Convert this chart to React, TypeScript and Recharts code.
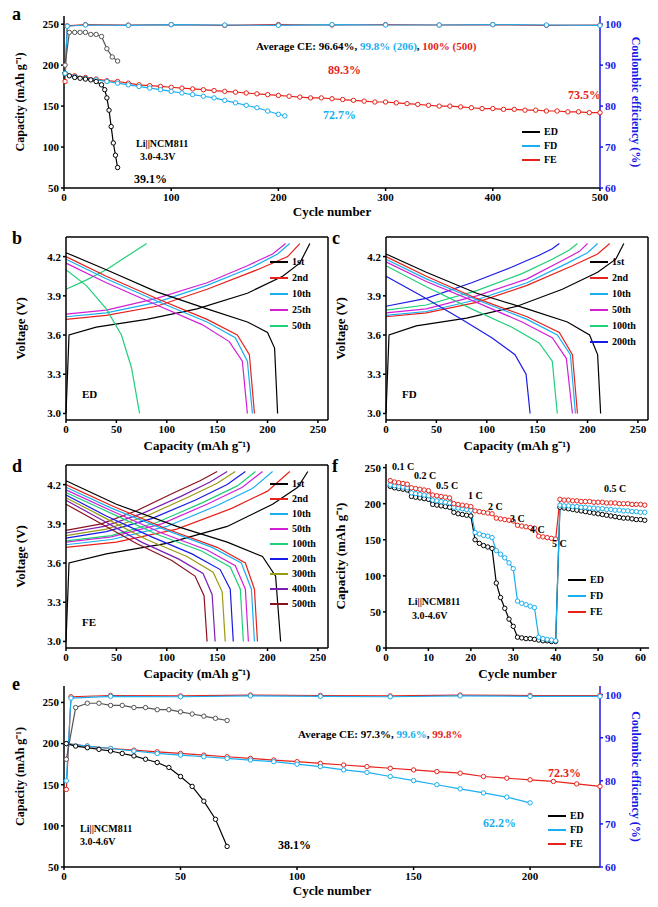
import React from "react";
import { ComposedChart, Line, XAxis, YAxis } from "recharts";

type P = [number, number];
const pts = (a: P[]) => a.map(([x, y]) => ({ x, y }));

// ---- panel a: 3.0-4.3 V cycling
const aFeCycles = [1, 10, 20, 30, 40, 50, 60, 70, 80, 90, 100, 110, 120, 130, 140, 150, 160, 170, 180, 190, 200, 210, 220, 230, 240, 250, 260, 270, 280, 290, 300, 310, 320, 330, 340, 350, 360, 370, 380, 390, 400, 410, 420, 430, 440, 450, 460, 470, 480, 490, 500];
const aFeCap = [190, 187, 185, 183, 181, 180, 178, 176, 175, 174, 173, 172, 171, 170, 169, 168, 167, 166, 165, 164, 163, 162, 161, 160, 160, 159, 158, 157, 156, 155, 155, 154, 153, 152, 151, 150, 150, 149, 148, 147, 147, 146, 146, 145, 145, 144, 144, 143, 143, 142, 142];
const aFdCycles = [1, 10, 20, 30, 40, 50, 60, 70, 80, 90, 100, 110, 120, 130, 140, 150, 160, 170, 180, 190, 200, 206];
const aFdCap = [190, 186, 184, 182, 180, 178, 176, 174, 172, 170, 168, 166, 164, 162, 160, 157, 154, 151, 148, 144, 140, 138];
const aEdCycles = [1, 5, 10, 15, 20, 25, 30, 35, 38, 40, 42, 44, 46, 48, 50];
const aEdCap = [190, 187, 185, 184, 183, 182, 180, 176, 170, 160, 145, 125, 105, 90, 75];
const aEdCeCycles = [1, 5, 10, 15, 20, 25, 30, 35, 40, 45, 50];
const aEdCe = [90, 98, 98, 98, 98, 97.5, 97.5, 97, 94, 92, 91];
const aCeCycles = [1, 3, 20, 60, 100, 150, 200, 250, 300, 350, 400, 450, 500];
const aFdCe = [88, 99.5, 99.8, 99.7, 99.9, 99.8, 99.7, 99.9, 99.8, 99.8, 99.9, 99.8, 99.7];
const aFeCe = [86, 99.6, 99.9, 99.8, 99.9, 99.7, 99.9, 99.8, 99.9, 99.8, 99.9, 99.7, 99.8];

// ---- panel b (ED), c (FD), d (FE): voltage profiles [capacity, V]
const bLabels = ["1st", "2nd", "10th", "25th", "50th"];
const bColors = ["#000", "#e8221b", "#19aef0", "#d21fd6", "#1fcf7a"];
const bCharge: P[][] = [
  [[0, 3.0], [3, 3.6], [30, 3.66], [80, 3.72], [130, 3.8], [180, 3.92], [215, 4.05], [232, 4.15], [242, 4.3]],
  [[0, 3.72], [40, 3.75], [90, 3.82], [140, 3.95], [190, 4.1], [220, 4.2], [232, 4.3]],
  [[0, 3.74], [40, 3.77], [90, 3.85], [140, 3.98], [185, 4.12], [210, 4.22], [222, 4.3]],
  [[0, 3.76], [40, 3.79], [90, 3.88], [140, 4.0], [180, 4.13], [205, 4.22], [218, 4.3]],
  [[0, 3.95], [20, 4.02], [40, 4.1], [60, 4.2], [80, 4.3]],
];
const bDischarge: P[][] = [
  [[0, 4.23], [40, 4.1], [90, 3.93], [140, 3.8], [180, 3.7], [200, 3.62], [207, 3.5], [210, 3.0]],
  [[0, 4.2], [40, 4.05], [90, 3.88], [140, 3.72], [170, 3.6], [182, 3.45], [187, 3.0]],
  [[0, 4.18], [40, 4.03], [90, 3.86], [140, 3.7], [168, 3.58], [180, 3.4], [185, 3.0]],
  [[0, 4.15], [40, 4.0], [90, 3.83], [135, 3.68], [162, 3.55], [175, 3.4], [180, 3.0]],
  [[0, 4.1], [20, 3.98], [40, 3.8], [55, 3.6], [65, 3.35], [73, 3.0]],
];
const cLabels = ["1st", "2nd", "10th", "50th", "100th", "200th"];
const cColors = ["#000", "#e8221b", "#19aef0", "#d21fd6", "#1fcf7a", "#1a1ae6"];
const cCharge: P[][] = [
  [[0, 3.0], [3, 3.6], [30, 3.67], [80, 3.73], [130, 3.82], [175, 3.95], [210, 4.08], [228, 4.18], [236, 4.3]],
  [[0, 3.74], [40, 3.77], [90, 3.85], [140, 3.98], [185, 4.13], [210, 4.22], [222, 4.3]],
  [[0, 3.75], [40, 3.78], [90, 3.87], [140, 4.0], [180, 4.15], [200, 4.23], [210, 4.3]],
  [[0, 3.77], [40, 3.8], [90, 3.9], [140, 4.03], [175, 4.17], [192, 4.24], [200, 4.3]],
  [[0, 3.79], [40, 3.83], [90, 3.94], [135, 4.07], [165, 4.18], [182, 4.25], [190, 4.3]],
  [[0, 3.82], [40, 3.88], [85, 4.0], [125, 4.12], [152, 4.21], [165, 4.26], [172, 4.3]],
];
const cDischarge: P[][] = [
  [[0, 4.22], [40, 4.08], [90, 3.92], [140, 3.8], [180, 3.7], [202, 3.6], [210, 3.45], [213, 3.0]],
  [[0, 4.2], [40, 4.05], [90, 3.88], [140, 3.74], [172, 3.62], [185, 3.45], [190, 3.0]],
  [[0, 4.18], [40, 4.03], [90, 3.87], [140, 3.72], [170, 3.6], [183, 3.45], [188, 3.0]],
  [[0, 4.16], [40, 4.01], [90, 3.85], [135, 3.7], [165, 3.58], [179, 3.42], [185, 3.0]],
  [[0, 4.13], [40, 3.97], [85, 3.8], [125, 3.66], [152, 3.54], [165, 3.4], [170, 3.0]],
  [[0, 4.05], [35, 3.9], [75, 3.72], [105, 3.58], [128, 3.45], [139, 3.3], [143, 3.0]],
];
const dLabels = ["1st", "2nd", "10th", "50th", "100th", "200th", "300th", "400th", "500th"];
const dColors = ["#000", "#e8221b", "#19aef0", "#d21fd6", "#1fcf7a", "#1a1ae6", "#9a9a14", "#7a1fb0", "#8a1020"];
const dCharge: P[][] = [
  [[0, 3.0], [3, 3.6], [40, 3.67], [100, 3.75], [160, 3.88], [205, 4.05], [230, 4.18], [240, 4.3]],
  [[0, 3.72], [50, 3.76], [110, 3.86], [165, 4.02], [200, 4.15], [222, 4.3]],
  [[0, 3.74], [45, 3.78], [100, 3.88], [150, 4.04], [185, 4.17], [205, 4.3]],
  [[0, 3.76], [45, 3.8], [95, 3.9], [140, 4.05], [175, 4.18], [195, 4.3]],
  [[0, 3.77], [45, 3.81], [90, 3.91], [135, 4.06], [170, 4.19], [188, 4.3]],
  [[0, 3.79], [40, 3.84], [85, 3.94], [128, 4.08], [160, 4.2], [178, 4.3]],
  [[0, 3.81], [40, 3.86], [80, 3.96], [120, 4.1], [150, 4.21], [168, 4.3]],
  [[0, 3.83], [38, 3.88], [76, 3.98], [114, 4.11], [143, 4.22], [160, 4.3]],
  [[0, 3.85], [35, 3.9], [70, 4.0], [105, 4.13], [133, 4.23], [150, 4.3]],
];
const dDischarge: P[][] = [
  [[0, 4.23], [50, 4.05], [110, 3.88], [160, 3.76], [195, 3.65], [208, 3.5], [213, 3.0]],
  [[0, 4.2], [45, 4.04], [100, 3.86], [150, 3.72], [178, 3.6], [187, 3.4], [190, 3.0]],
  [[0, 4.18], [45, 4.02], [100, 3.85], [145, 3.72], [174, 3.6], [184, 3.4], [187, 3.0]],
  [[0, 4.16], [45, 4.0], [95, 3.83], [140, 3.7], [168, 3.58], [178, 3.4], [181, 3.0]],
  [[0, 4.14], [45, 3.98], [90, 3.82], [135, 3.69], [163, 3.57], [173, 3.4], [176, 3.0]],
  [[0, 4.12], [40, 3.96], [85, 3.8], [125, 3.67], [153, 3.55], [163, 3.4], [166, 3.0]],
  [[0, 4.1], [40, 3.94], [80, 3.78], [120, 3.65], [146, 3.53], [155, 3.38], [158, 3.0]],
  [[0, 4.08], [38, 3.92], [75, 3.76], [112, 3.63], [136, 3.52], [145, 3.36], [148, 3.0]],
  [[0, 4.05], [35, 3.9], [70, 3.75], [105, 3.62], [128, 3.5], [137, 3.35], [140, 3.0]],
];

// ---- panel f: rate capability, cycles 1..61
const fEd = [224, 222, 221, 220, 219, 210, 209, 208, 207, 206, 199, 198, 197, 196, 195, 188, 186, 185, 184, 183, 150, 145, 142, 140, 138, 90, 70, 55, 40, 30, 15, 14, 13, 13, 12, 11, 10, 10, 9, 9, 195, 194, 193, 192, 191, 190, 189, 188, 187, 186, 185, 184, 183, 182, 181, 180, 180, 179, 178, 178, 177];
const fFd = [226, 225, 224, 223, 222, 215, 214, 213, 212, 211, 205, 204, 203, 202, 201, 195, 194, 193, 192, 191, 160, 158, 156, 155, 153, 135, 130, 125, 118, 110, 65, 62, 60, 58, 56, 15, 13, 12, 11, 10, 198, 197, 197, 196, 196, 195, 195, 194, 194, 193, 193, 192, 192, 191, 191, 190, 190, 189, 189, 188, 188];
const fFe = [232, 230, 229, 228, 227, 222, 221, 220, 219, 218, 212, 211, 210, 209, 208, 200, 199, 198, 197, 196, 190, 189, 188, 187, 186, 180, 179, 178, 177, 176, 170, 169, 168, 167, 166, 155, 154, 153, 152, 151, 206, 205, 205, 204, 204, 203, 203, 203, 202, 202, 202, 201, 201, 201, 200, 200, 200, 199, 199, 199, 198];
const fRates = ["0.1 C", "0.2 C", "0.5 C", "1 C", "2 C", "3 C", "4 C", "5 C", "0.5 C"];

// ---- panel e: 3.0-4.6 V cycling
const eEdCycles = [1, 5, 10, 15, 20, 25, 30, 35, 40, 45, 50, 55, 60, 65, 70];
const eEdCap = [200, 197, 195, 193, 191, 188, 185, 181, 177, 171, 160, 148, 130, 108, 75];
const eEdCe = [85, 97, 98, 98, 97.5, 97.5, 97, 97, 96.5, 96.5, 96, 95.5, 95, 94.5, 94];
const eFdCycles = [1, 10, 20, 30, 40, 50, 60, 70, 80, 90, 100, 110, 120, 130, 140, 150, 160, 170, 180, 190, 200];
const eFdCap = [200, 197, 194, 191, 188, 186, 184, 182, 180, 178, 175, 172, 168, 165, 160, 155, 150, 145, 140, 135, 128];
const eFeCycles = [1, 10, 20, 30, 40, 50, 60, 70, 80, 90, 100, 110, 120, 130, 140, 150, 160, 170, 180, 190, 200, 210, 220, 230];
const eFeCap = [200, 197, 194, 192, 190, 188, 186, 184, 182, 180, 178, 176, 174, 172, 170, 168, 166, 164, 160, 158, 156, 154, 151, 148];
const eCeCycles = [1, 3, 20, 50, 80, 110, 140, 170, 200, 230];
const eFdCe = [80, 99.2, 99.6, 99.5, 99.7, 99.6, 99.5, 99.7, 99.6, 99.6];
const eFeCe = [78, 99.5, 99.8, 99.7, 99.9, 99.8, 99.7, 99.9, 99.8, 99.8];

const BLACK = "#000";
const RED = "#e8221b";
const CYAN = "#19aef0";
const BLUE = "#1a1ae6";
const font = "'Liberation Serif', serif";
const tick = { fontSize: 11, fontWeight: 700, fill: "#000", fontFamily: font };

const zip = (xs: number[], ys: number[]) => xs.map((x, i) => ({ x, y: ys[i] }));
const T = (p: { x: number; y: number; c?: string; s?: number; children: React.ReactNode }) => (
  <div style={{ position: "absolute", left: p.x, top: p.y, color: p.c ?? "#000", fontSize: p.s ?? 11, fontWeight: 700, fontFamily: font, whiteSpace: "nowrap" }}>{p.children}</div>
);

const line = (key: string, data: any[], color: string, yId = "l", dots = true) => (
  <Line key={key} data={data} dataKey="y" yAxisId={yId} stroke={color} strokeWidth={1.2} isAnimationActive={false}
    dot={dots ? { r: 2.2, fill: "#fff", stroke: color, strokeWidth: 1 } : false} />
);

const lbl = (value: string, size = 13, fill = "#000") =>
  ({ value, position: "insideBottom", offset: 4, style: { fontSize: size, fontWeight: 700, fontFamily: font, fill } }) as any;
const ylbl = (value: string, size = 13, fill = "#000", right = false) =>
  ({ value, angle: right ? 90 : -90, position: right ? "insideRight" : "insideLeft", offset: right ? 14 : 12, style: { fontSize: size, fontWeight: 700, fontFamily: font, fill, textAnchor: "middle" } }) as any;

function Legend({ items, x, y, gap = 15 }: { items: [string, string][]; x: number; y: number; gap?: number }) {
  return (
    <>
      {items.map(([l, c], i) => (
        <div key={l} style={{ position: "absolute", left: x, top: y + i * gap, display: "flex", alignItems: "center", fontSize: 10, fontWeight: 700, fontFamily: font }}>
          <span style={{ display: "inline-block", width: 18, height: 2, background: c, marginRight: 4 }} />{l}
        </div>
      ))}
    </>
  );
}

function Voltage({ charge, discharge, colors, labels, name, letter }: { charge: P[][]; discharge: P[][]; colors: string[]; labels: string[]; name: string; letter: string }) {
  return (
    <div style={{ position: "relative", width: 329, height: 228 }}>
      <ComposedChart width={329} height={228} margin={{ top: 8, right: 8, left: 0, bottom: 2 }}>
        <XAxis type="number" dataKey="x" domain={[0, 260]} ticks={[0, 50, 100, 150, 200, 250]} tick={tick} stroke="#000" strokeWidth={1.5} tickSize={3} height={34}
          label={lbl("Capacity (mAh g⁻¹)")} />
        <YAxis yAxisId="l" type="number" domain={[2.95, 4.35]} ticks={[3.0, 3.3, 3.6, 3.9, 4.2]} tickFormatter={(v) => v.toFixed(1)} tick={tick} stroke="#000" strokeWidth={1.5} width={58} tickSize={3}
          label={ylbl("Voltage (V)")} />
        <XAxis xAxisId="top" orientation="top" type="number" domain={[0, 260]} tick={false} stroke="#000" strokeWidth={1.5} height={1} />
        <YAxis yAxisId="r" orientation="right" tick={false} stroke="#000" strokeWidth={1.5} width={1} />
        {charge.map((c, i) => line("c" + i, pts(c), colors[i], "l", false))}
        {discharge.map((c, i) => line("d" + i, pts(c), colors[i], "l", false))}
      </ComposedChart>
      <T x={4} y={0} s={18}>{letter}</T>
      <T x={74} y={160} s={11}>{name}</T>
      <Legend items={labels.map((l, i) => [l, colors[i]] as [string, string])} x={262} y={labels.length > 6 ? 22 : 28} gap={labels.length > 6 ? 15 : 16} />
    </div>
  );
}

export default function App() {
  return (
    <div style={{ position: "relative", width: 642, height: 891, fontFamily: font }}>
      {/* a */}
      <div style={{ position: "absolute", left: 0, top: 0 }}>
        <ComposedChart width={642} height={212} margin={{ top: 8, right: 0, left: 0, bottom: 0 }}>
          <XAxis type="number" dataKey="x" domain={[0, 500]} ticks={[0, 100, 200, 300, 400, 500]} tick={tick} stroke="#000" strokeWidth={1.5} tickSize={3} height={32} label={lbl("Cycle number")} />
          <YAxis yAxisId="l" domain={[50, 260]} ticks={[50, 100, 150, 200, 250]} tick={tick} stroke="#000" strokeWidth={1.5} width={56} tickSize={3} label={ylbl("Capacity (mAh g⁻¹)", 12)} />
          <YAxis yAxisId="r" orientation="right" domain={[60, 102]} ticks={[60, 70, 80, 90, 100]} tick={{ ...tick, fill: BLUE }} stroke={BLUE} strokeWidth={1.5} width={50} tickSize={3} label={ylbl("Coulombic efficiency (%)", 12, BLUE, true)} />
          {line("fe", zip(aFeCycles, aFeCap), RED)}
          {line("fd", zip(aFdCycles, aFdCap), CYAN)}
          {line("ed", zip(aEdCycles, aEdCap), BLACK)}
          {line("fec", zip(aCeCycles, aFeCe), RED, "r")}
          {line("fdc", zip(aCeCycles, aFdCe), CYAN, "r")}
          {line("edc", zip(aEdCeCycles, aEdCe), "#555", "r")}
        </ComposedChart>
        <T x={4} y={-4} s={18}>a</T>
        <T x={248} y={32}>Average CE: 96.64%, <span style={{ color: CYAN }}>99.8% (206)</span>, <span style={{ color: RED }}>100% (500)</span></T>
        <T x={320} y={55} c={RED} s={12}>89.3%</T>
        <T x={315} y={100} c={CYAN} s={12}>72.7%</T>
        <T x={560} y={80} c={RED} s={12}>73.5%</T>
        <T x={126} y={164} s={12}>39.1%</T>
        <T x={128} y={130} s={10}>Li||NCM811</T>
        <T x={132} y={143} s={10}>3.0-4.3V</T>
        <Legend items={[["ED", BLACK], ["FD", CYAN], ["FE", RED]]} x={514} y={118} gap={14} />
      </div>
      <div style={{ position: "absolute", left: 0, top: 220 }}>
        <Voltage charge={bCharge} discharge={bDischarge} colors={bColors} labels={bLabels} name="ED" letter="b" />
      </div>
      <div style={{ position: "absolute", left: 320, top: 220 }}>
        <Voltage charge={cCharge} discharge={cDischarge} colors={cColors} labels={cLabels} name="FD" letter="c" />
      </div>
      <div style={{ position: "absolute", left: 0, top: 448 }}>
        <Voltage charge={dCharge} discharge={dDischarge} colors={dColors} labels={dLabels} name="FE" letter="d" />
      </div>
      {/* f */}
      <div style={{ position: "absolute", left: 320, top: 448 }}>
        <ComposedChart width={329} height={228} margin={{ top: 8, right: 8, left: 0, bottom: 2 }}>
          <XAxis type="number" dataKey="x" domain={[0, 62]} ticks={[0, 10, 20, 30, 40, 50, 60]} tick={tick} stroke="#000" strokeWidth={1.5} tickSize={3} height={34} label={lbl("Cycle number")} />
          <YAxis yAxisId="l" domain={[0, 255]} ticks={[0, 50, 100, 150, 200, 250]} tick={tick} stroke="#000" strokeWidth={1.5} width={58} tickSize={3} label={ylbl("Capacity (mAh g⁻¹)")} />
          {line("ed", fEd.map((y, i) => ({ x: i + 1, y })), BLACK)}
          {line("fd", fFd.map((y, i) => ({ x: i + 1, y })), CYAN)}
          {line("fe", fFe.map((y, i) => ({ x: i + 1, y })), RED)}
        </ComposedChart>
        <T x={4} y={0} s={18}>f</T>
        {fRates.map((r, i) => (
          <T key={i} x={[64, 86, 108, 140, 160, 182, 202, 224, 276][i]} y={[5, 14, 24, 34, 45, 57, 68, 82, 27][i]} s={10}>{r}</T>
        ))}
        <T x={80} y={140} s={10}>Li||NCM811</T>
        <T x={84} y={154} s={10}>3.0-4.6V</T>
        <Legend items={[["ED", BLACK], ["FD", CYAN], ["FE", RED]]} x={240} y={118} gap={16} />
      </div>
      {/* e */}
      <div style={{ position: "absolute", left: 0, top: 670 }}>
        <ComposedChart width={642} height={221} margin={{ top: 8, right: 0, left: 0, bottom: 0 }}>
          <XAxis type="number" dataKey="x" domain={[0, 230]} ticks={[0, 50, 100, 150, 200]} tick={tick} stroke="#000" strokeWidth={1.5} tickSize={3} height={32} label={lbl("Cycle number")} />
          <YAxis yAxisId="l" domain={[50, 270]} ticks={[50, 100, 150, 200, 250]} tick={tick} stroke="#000" strokeWidth={1.5} width={56} tickSize={3} label={ylbl("Capacity (mAh g⁻¹)", 12)} />
          <YAxis yAxisId="r" orientation="right" domain={[60, 102]} ticks={[60, 70, 80, 90, 100]} tick={{ ...tick, fill: BLUE }} stroke={BLUE} strokeWidth={1.5} width={50} tickSize={3} label={ylbl("Coulombic efficiency (%)", 12, BLUE, true)} />
          {line("fe", zip(eFeCycles, eFeCap), RED)}
          {line("fd", zip(eFdCycles, eFdCap), CYAN)}
          {line("ed", zip(eEdCycles, eEdCap), BLACK)}
          {line("fec", zip(eCeCycles, eFeCe), RED, "r")}
          {line("fdc", zip(eCeCycles, eFdCe), CYAN, "r")}
          {line("edc", zip(eEdCycles, eEdCe), "#555", "r")}
        </ComposedChart>
        <T x={4} y={-4} s={18}>e</T>
        <T x={290} y={50}>Average CE: 97.3%, <span style={{ color: CYAN }}>99.6%</span>, <span style={{ color: RED }}>99.8%</span></T>
        <T x={540} y={88} c={RED} s={12}>72.3%</T>
        <T x={475} y={138} c={CYAN} s={12}>62.2%</T>
        <T x={270} y={160} s={12}>38.1%</T>
        <T x={72} y={145} s={10}>Li||NCM811</T>
        <T x={72} y={158} s={10}>3.0-4.6V</T>
        <Legend items={[["ED", BLACK], ["FD", CYAN], ["FE", RED]]} x={540} y={132} gap={14} />
      </div>
    </div>
  );
}
